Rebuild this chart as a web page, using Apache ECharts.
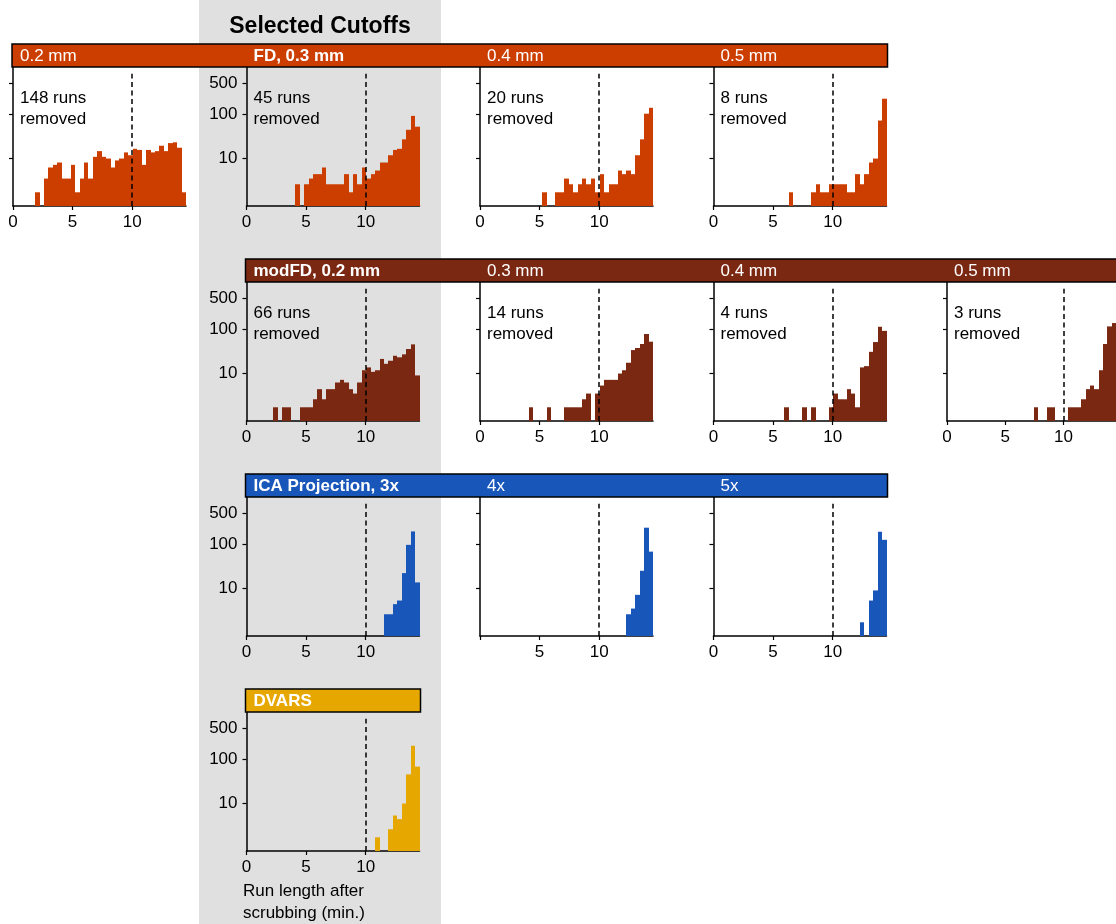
<!DOCTYPE html>
<html>
<head>
<meta charset="utf-8">
<script src="https://cdn.jsdelivr.net/npm/echarts@6.0.0/dist/echarts.min.js"></script>
<style>
  html, body { margin: 0; padding: 0; background: #fff; }
  #main { width: 1116px; height: 924px; }
</style>
</head>
<body>
<div id="main"></div>
<script>
// histogram bins: 39 equal bins from 0 to 14.52 min
const binCount = 39;
const binMax = 14.52;
const cutoff = 10;
const xTicks = [0, 5, 10];
const yTicks = [10, 100, 500];

// run counts per bin
const fd02 = [0,0,0,0,0,1,0,3,6,7,8,3,3,7,1,3,8,3,11,15,11,10,6,9,10,14,12,17,16,7,16,14,15,20,15,23,24,18,1];
const fd03 = [0,0,0,0,0,0,0,0,0,0,0,2,0,2,3,4,4,6,2,2,2,2,4,1,4,2,6,3,4,5,8,8,12,16,17,28,46,94,54];
const fd04 = [0,0,0,0,0,0,0,0,0,0,0,0,0,0,1,0,0,1,1,3,2,1,2,3,2,3,1,4,1,2,2,5,4,5,4,12,28,105,142];
const fd05 = [0,0,0,0,0,0,0,0,0,0,0,0,0,0,0,0,0,1,0,0,0,0,1,2,1,1,2,2,2,2,1,1,4,2,4,8,10,74,225];
const mod02 = [0,0,0,0,0,0,1,0,1,1,0,0,1,1,1,2,4,2,4,4,6,7,6,4,3,6,12,14,11,12,22,17,20,26,24,28,37,47,9];
const mod03 = [0,0,0,0,0,0,0,0,0,0,0,1,0,0,0,1,0,0,0,1,1,1,1,2,3,0,3,5,7,7,7,10,12,18,35,39,48,80,54];
const mod04 = [0,0,0,0,0,0,0,0,0,0,0,0,0,0,0,0,1,0,0,0,1,0,1,0,0,0,1,3,2,2,4,3,1,14,15,32,53,116,94];
const mod05 = [0,0,0,0,0,0,0,0,0,0,0,0,0,0,0,0,0,0,0,0,1,0,0,1,1,0,0,0,1,1,1,2,4,5,4,12,48,118,140];
const ica3 = [0,0,0,0,0,0,0,0,0,0,0,0,0,0,0,0,0,0,0,0,0,0,0,0,0,0,0,0,0,0,0,2,2,4,5,23,99,196,14];
const ica4 = [0,0,0,0,0,0,0,0,0,0,0,0,0,0,0,0,0,0,0,0,0,0,0,0,0,0,0,0,0,0,0,0,0,2,3,7,26,237,70];
const ica5 = [0,0,0,0,0,0,0,0,0,0,0,0,0,0,0,0,0,0,0,0,0,0,0,0,0,0,0,0,0,0,0,0,0,1,0,5,9,193,128];
const dvars = [0,0,0,0,0,0,0,0,0,0,0,0,0,0,0,0,0,0,0,0,0,0,0,0,0,0,0,0,0,1,0,0,2,5,4,10,47,203,70];

const rows = [
  { name: 'FD', color: '#cc3d00', startCol: 0, labels: ['0.2 mm', 'FD, 0.3 mm', '0.4 mm', '0.5 mm'] },
  { name: 'modFD', color: '#7b2813', startCol: 1, labels: ['modFD, 0.2 mm', '0.3 mm', '0.4 mm', '0.5 mm'] },
  { name: 'ICA', color: '#1856ba', startCol: 1, labels: ['ICA Projection, 3x', '4x', '5x'] },
  { name: 'DVARS', color: '#e6a800', startCol: 1, labels: ['DVARS'] }
];

const panels = [
  { row: 0, col: 0, counts: fd02, removed: 148 },
  { row: 0, col: 1, counts: fd03, removed: 45 },
  { row: 0, col: 2, counts: fd04, removed: 20 },
  { row: 0, col: 3, counts: fd05, removed: 8 },
  { row: 1, col: 1, counts: mod02, removed: 66 },
  { row: 1, col: 2, counts: mod03, removed: 14 },
  { row: 1, col: 3, counts: mod04, removed: 4 },
  { row: 1, col: 4, counts: mod05, removed: 3 },
  { row: 2, col: 1, counts: ica3 },
  { row: 2, col: 2, counts: ica4, noZero: true },
  { row: 2, col: 3, counts: ica5 },
  { row: 3, col: 1, counts: dvars }
];

// layout
const colX = [13, 246.5, 480, 713.5, 947];
const rowTop = [44, 259, 474, 689];
const headH = 23;
const plotW = 173;
const plotH = 139;
const yMax = 3.05;   // log10(count + 1)
const font = '"Liberation Sans", Arial, Helvetica, sans-serif';

const chart = echarts.init(document.getElementById('main'), null, { renderer: 'canvas' });

const lg = v => Math.log10(v + 1);
const binW = binMax / binCount;

const grids = [], xAxes = [], yAxes = [], series = [];
const graphics = [];

// shaded "selected cutoffs" column
graphics.push({
  type: 'rect', z: -10, silent: true,
  shape: { x: 199, y: 0, width: 242, height: 924 },
  style: { fill: '#e0e0e0' }
});
graphics.push({
  type: 'text', silent: true,
  x: 320, y: 27,
  style: { text: 'Selected Cutoffs', font: 'bold 23px ' + font, fill: '#000', textAlign: 'center', textVerticalAlign: 'middle' }
});

rows.forEach((r, ri) => {
  const x0 = colX[r.startCol] - 1;
  const x1 = colX[r.startCol + r.labels.length - 1] + plotW + 1;
  graphics.push({
    type: 'rect', z: 5, silent: true,
    shape: { x: x0, y: rowTop[ri], width: x1 - x0, height: headH },
    style: { fill: r.color, stroke: '#000', lineWidth: 1.5 }
  });
  r.labels.forEach((lab, k) => {
    const c = r.startCol + k;
    graphics.push({
      type: 'text', z: 6, silent: true,
      x: colX[c] + 7, y: rowTop[ri] + headH / 2 + 1,
      style: {
        text: lab, fill: '#fff', textVerticalAlign: 'middle',
        font: (c === 1 ? 'bold ' : '') + '17px ' + font
      }
    });
  });
});

panels.forEach((p, i) => {
  const color = rows[p.row].color;
  grids.push({
    left: colX[p.col], top: rowTop[p.row] + headH, width: plotW, height: plotH,
    containLabel: false
  });
  xAxes.push({
    type: 'value', gridIndex: i, min: 0, max: binMax,
    axisLine: { onZero: false, lineStyle: { color: '#000', width: 1.5 } },
    axisTick: { length: 4, customValues: xTicks, lineStyle: { color: '#000', width: 1.2 } },
    axisLabel: {
      customValues: p.noZero ? xTicks.slice(1) : xTicks,
      color: '#000', fontSize: 17, fontFamily: font, margin: 8
    },
    splitLine: { show: false }
  });
  yAxes.push({
    type: 'value', gridIndex: i, min: 0, max: yMax,
    axisLine: { show: true, lineStyle: { color: '#000', width: 1.5 } },
    axisTick: { show: true, length: 4, customValues: yTicks.map(lg), lineStyle: { color: '#000', width: 1.2 } },
    axisLabel: {
      show: p.col === 1, customValues: yTicks.map(lg),
      formatter: v => String(Math.round(Math.pow(10, v) - 1)),
      color: '#000', fontSize: 17, fontFamily: font, margin: 9
    },
    splitLine: { show: false }
  });

  const data = [];
  p.counts.forEach((n, b) => {
    if (n > 0) data.push([b * binW, (b + 1) * binW, lg(n)]);
  });
  series.push({
    type: 'custom', xAxisIndex: i, yAxisIndex: i,
    encode: { x: [0, 1], y: 2 },
    data: data,
    clip: true,
    renderItem: function (params, api) {
      const a = api.coord([api.value(0), api.value(2)]);
      const b = api.coord([api.value(1), 0]);
      const xa = Math.round(a[0]), xb = Math.round(b[0]);
      return {
        type: 'rect',
        shape: { x: xa, y: a[1], width: xb - xa, height: b[1] - a[1] },
        style: { fill: color }
      };
    }
  });
  // cutoff line
  series.push({
    type: 'line', xAxisIndex: i, yAxisIndex: i, data: [],
    markLine: {
      silent: true, symbol: 'none', animation: false,
      label: { show: false },
      lineStyle: { color: '#000', type: [5, 3.5], width: 1.5 },
      data: [[{ coord: [cutoff, 0] }, { coord: [cutoff, 2.9] }]]
    }
  });

  if (p.removed !== undefined) {
    graphics.push({
      type: 'text', z: 6, silent: true,
      x: colX[p.col] + 7, y: rowTop[p.row] + headH + 21,
      style: {
        text: p.removed + ' runs\nremoved', fill: '#000',
        font: '17px ' + font, lineHeight: 21
      }
    });
  }
});

graphics.push({
  type: 'text', silent: true,
  x: 243, y: 880,
  style: { text: 'Run length after\nscrubbing (min.)', fill: '#000', font: '17px ' + font, lineHeight: 22 }
});

chart.setOption({
  backgroundColor: '#fff',
  animation: false,
  grid: grids,
  xAxis: xAxes,
  yAxis: yAxes,
  series: series,
  graphic: { elements: graphics }
});
</script>
</body>
</html>
